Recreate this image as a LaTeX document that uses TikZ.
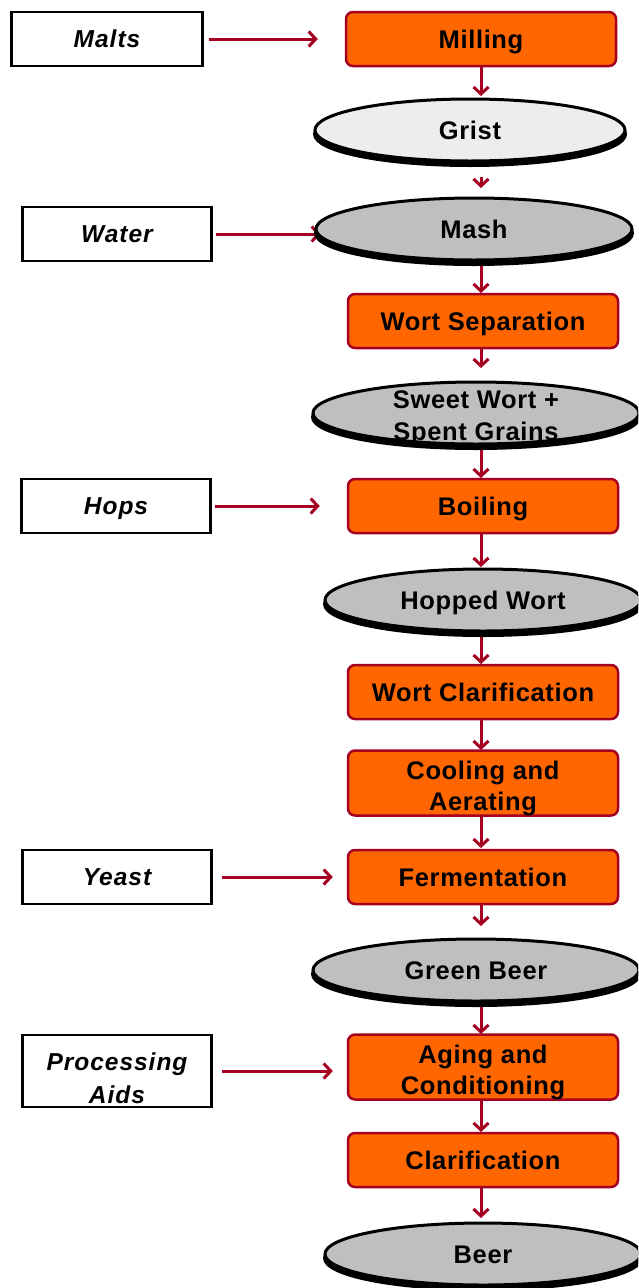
\documentclass[tikz,border=0pt]{standalone}
\usepackage{fontspec}
\setmainfont{Liberation Sans}
\newfontfamily\spfont[LetterSpace=2.5]{Liberation Sans}
\newfontfamily\inpfont[LetterSpace=4]{Liberation Sans}
\usetikzlibrary{shapes.geometric,arrows.meta}
\definecolor{arrred}{HTML}{A50021}
\definecolor{proc}{HTML}{FF6600}
\definecolor{prodgray}{HTML}{BFBFBF}
\definecolor{lightgray2}{HTML}{EDEDED}
\newcommand{\twoline}[3]{\raisebox{-#1}[0pt][0pt]{\begin{tabular}{@{}c@{}}#2\\#3\end{tabular}}}
\tikzset{
  one/.style={text height=18.3pt, text depth=0pt},
  ione/.style={text height=17.5pt, text depth=0pt},
  two/.style={text height=0pt, text depth=0pt},
  inbox/.style={draw=black, line width=2.5pt, fill=white, minimum width=189pt, minimum height=54pt, font=\inpfont\fontsize{24.5}{33}\selectfont\bfseries\itshape, inner sep=1pt},
  procbox/.style={draw=arrred, line width=2.5pt, fill=proc, rounded corners=7pt, minimum width=270pt, minimum height=54pt, font=\spfont\fontsize{25.5}{31}\selectfont\bfseries, inner sep=1pt},
  prod/.style={ellipse, draw=black, line width=3pt, fill=prodgray, font=\spfont\fontsize{25.5}{32}\selectfont\bfseries, inner sep=0pt, minimum height=62pt,
    preaction={draw=black, line width=4pt, fill=black, transform canvas={yshift=-4pt}}},
  flow/.style={draw=arrred, line width=3pt, -{Straight Barb[length=7pt,width=15pt]}},
}
\begin{document}
\begin{tikzpicture}[x=1pt,y=-1pt]
\path[use as bounding box] (0,0) rectangle (638,1288);
\clip (0,0) rectangle (638,1288);
% inputs
\node[inbox, ione, minimum width=191pt] (malts) at (107,39) {Malts};
\node[inbox, ione] (water) at (117,234) {Water};
\node[inbox, ione] (hops) at (116,506) {Hops};
\node[inbox, ione] (yeast) at (117,877) {Yeast};
\node[inbox, two, minimum height=72pt] (aids) at (117,1071) {\twoline{15.8pt}{Processing}{Aids}};
% process steps
\node[procbox, one] (milling) at (481,39) {Milling};
\node[procbox, one] (wortsep) at (483,321) {Wort Separation};
\node[procbox, one] (boiling) at (483,506) {Boiling};
\node[procbox, one] (wortclar) at (483,692) {Wort Clarification};
\node[procbox, two, minimum height=65pt] (cooling) at (483,783) {\twoline{12pt}{Cooling and}{Aerating}};
\node[procbox, one] (ferment) at (483,877) {Fermentation};
\node[procbox, two, minimum height=65pt] (aging) at (483,1067) {\twoline{12pt}{Aging and}{Conditioning}};
\node[procbox, one] (clar) at (483,1160) {Clarification};
% product positions
\coordinate (pg) at (470,130);
\coordinate (pm) at (474,229);
\coordinate (ps) at (476,413);
\coordinate (ph) at (483,600);
\coordinate (pgb) at (476,970);
\coordinate (pb) at (483,1254);
% arrows (drawn before products so ellipses cover them)
\draw[flow] ([xshift=5pt]malts.east) -- ++(109,0);
\draw[flow] ([xshift=3pt]water.east) -- ++(105,0);
\draw[flow] ([xshift=3pt]hops.east) -- ++(105,0);
\draw[flow] ([xshift=9pt]yeast.east) -- ++(111,0);
\draw[flow] ([xshift=9pt]aids.east) -- ++(111,0);
\draw[flow] (481,66) -- (481,96);
\draw[flow] (481,177) -- (481,188);
\draw[flow] (481,262) -- (481,293);
\draw[flow] (481,349) -- (481,368);
\draw[flow] (481,445) -- (481,478);
\draw[flow] (481,534) -- (481,567);
\draw[flow] (481,632) -- (481,664);
\draw[flow] (481,720) -- (481,750);
\draw[flow] (481,816) -- (481,848);
\draw[flow] (481,905) -- (481,926);
\draw[flow] (481,1002) -- (481,1034);
\draw[flow] (481,1100) -- (481,1132);
\draw[flow] (481,1188) -- (481,1218);
% products
\node[prod, one, fill=lightgray2, minimum width=310pt] (grist) at (pg) {Grist};
\node[prod, one, minimum width=316pt] (mash) at (pm) {Mash};
\node[prod, two, minimum width=326pt] (sweet) at (ps) {\twoline{11pt}{Sweet Wort +}{Spent Grains}};
\node[prod, one, minimum width=316pt] (hopped) at (ph) {Hopped Wort};
\node[prod, one, minimum width=326pt] (green) at (pgb) {Green Beer};
\node[prod, one, minimum width=316pt] (beer) at (pb) {Beer};
\end{tikzpicture}
\end{document}
